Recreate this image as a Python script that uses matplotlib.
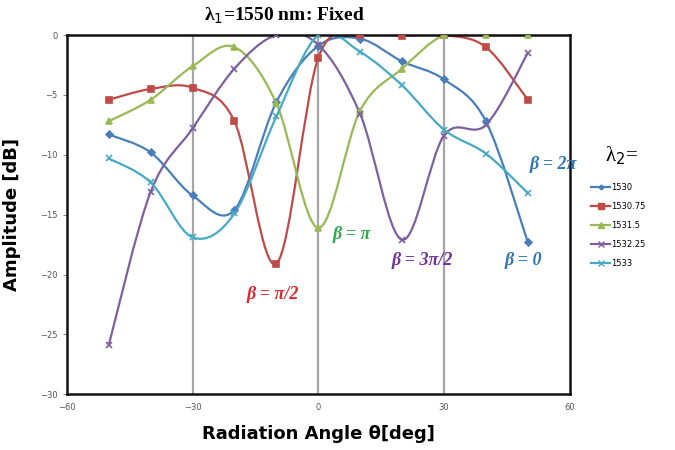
import numpy as np
import matplotlib.pyplot as plt
from matplotlib.path import Path
from matplotlib.patches import PathPatch

# angles (deg) and amplitude (dB)
angle = [-50, -40, -30, -20, -10, 0, 10, 20, 30, 40, 50]
amp_1530 = [-8.3, -9.8, -13.4, -14.6, -5.6, -0.9, -0.3, -2.2, -3.7, -7.2, -17.3]
amp_1530_75 = [-5.4, -4.5, -4.4, -7.2, -19.1, -1.9, 0.0, -0.05, 0.0, -1.0, -5.4]
amp_1531_5 = [-7.2, -5.4, -2.6, -1.0, -5.7, -16.1, -6.3, -2.8, 0.0, 0.0, 0.0]
amp_1532_25 = [-25.9, -13.1, -7.8, -2.8, 0.0, -0.8, -6.6, -17.1, -8.4, -7.5, -1.5]
amp_1533 = [-10.3, -12.3, -16.9, -14.9, -6.8, 0.0, -1.4, -4.2, -7.9, -9.9, -13.2]

labels = ["1530", "1530.75", "1531.5", "1532.25", "1533"]
series = [amp_1530, amp_1530_75, amp_1531_5, amp_1532_25, amp_1533]
colors = ["#4a7ebb", "#be4b48", "#98b954", "#7d60a0", "#46aac5"]
markers = ["D", "s", "^", "x", "x"]
msizes = [3.5, 5, 5, 5, 5]


def smooth_path(x, y):
    # excel-like smoothed line: catmull-rom as cubic bezier segments
    pts = np.column_stack([x, y]).astype(float)
    verts = [pts[0]]
    codes = [Path.MOVETO]
    n = len(pts)
    for i in range(n - 1):
        p0 = pts[max(i - 1, 0)]
        p1 = pts[i]
        p2 = pts[i + 1]
        p3 = pts[min(i + 2, n - 1)]
        c1 = p1 + (p2 - p0) / 6
        c2 = p2 - (p3 - p1) / 6
        verts += [c1, c2, p2]
        codes += [Path.CURVE4] * 3
    return Path(verts, codes)


fig = plt.figure(figsize=(6.75, 4.5), dpi=100)
ax = fig.add_axes([0.099, 0.124, 0.745, 0.798])

for xv in [-30, 0, 30]:
    ax.axvline(xv, color="#a6a6a6", lw=1.6, zorder=0)

handles = []
for y, c, m, ms, lab in zip(series, colors, markers, msizes, labels):
    ax.add_patch(PathPatch(smooth_path(angle, y), fc="none", ec=c, lw=1.6, zorder=2))
    ax.plot(angle, y, ls="none", marker=m, ms=ms, color=c, mew=1.2, zorder=3)
    handles.append(plt.Line2D([], [], color=c, marker=m, ms=ms - 1, lw=1.6, mew=1.0))

ax.set_xlim(-60, 60)
ax.set_ylim(-30, 0)
ax.set_xticks([-60, -30, 0, 30, 60])
ax.set_yticks(np.arange(-30, 1, 5))
ax.tick_params(labelsize=6, labelcolor="#555555", color="#888888", length=3, width=0.8)
ax.tick_params(axis="x", length=0, pad=6)
for s in ax.spines.values():
    s.set_linewidth(1.8)
    s.set_color("#111111")

ax.set_xlabel("Radiation Angle θ[deg]", fontsize=13, fontweight="bold", labelpad=10)
ax.set_ylabel("Amplitude [dB]", fontsize=13, fontweight="bold", labelpad=14)
fig.text(0.422, 0.965, "λ$_1$=1550 nm: Fixed", ha="center", va="center",
         fontsize=14, fontweight="bold", family="Liberation Serif")

# beta labels
ann = dict(fontsize=13, fontweight="bold", style="italic", family="Liberation Serif")
ax.text(50.5, -10.8, "β = 2π", color="#2e75b6", ha="left", va="center", **ann)
ax.text(-17, -21.7, "β = π/2", color="#e0262b", ha="left", va="center", **ann)
ax.text(3.5, -16.7, "β = π", color="#2ea84a", ha="left", va="center", **ann)
ax.text(17.5, -18.8, "β = 3π/2", color="#7030a0", ha="left", va="center", **ann)
ax.text(44.5, -18.8, "β = 0", color="#2e75b6", ha="left", va="center", **ann)

fig.text(0.897, 0.655, "λ$_2$=", fontsize=15, family="Liberation Serif", ha="left", va="center")
fig.legend(handles, labels, loc="upper left", bbox_to_anchor=(0.865, 0.61),
           frameon=False, fontsize=6, handlelength=2.2, handletextpad=0.2,
           labelspacing=1.2)

plt.savefig("out.png", dpi=100)
plt.close()
